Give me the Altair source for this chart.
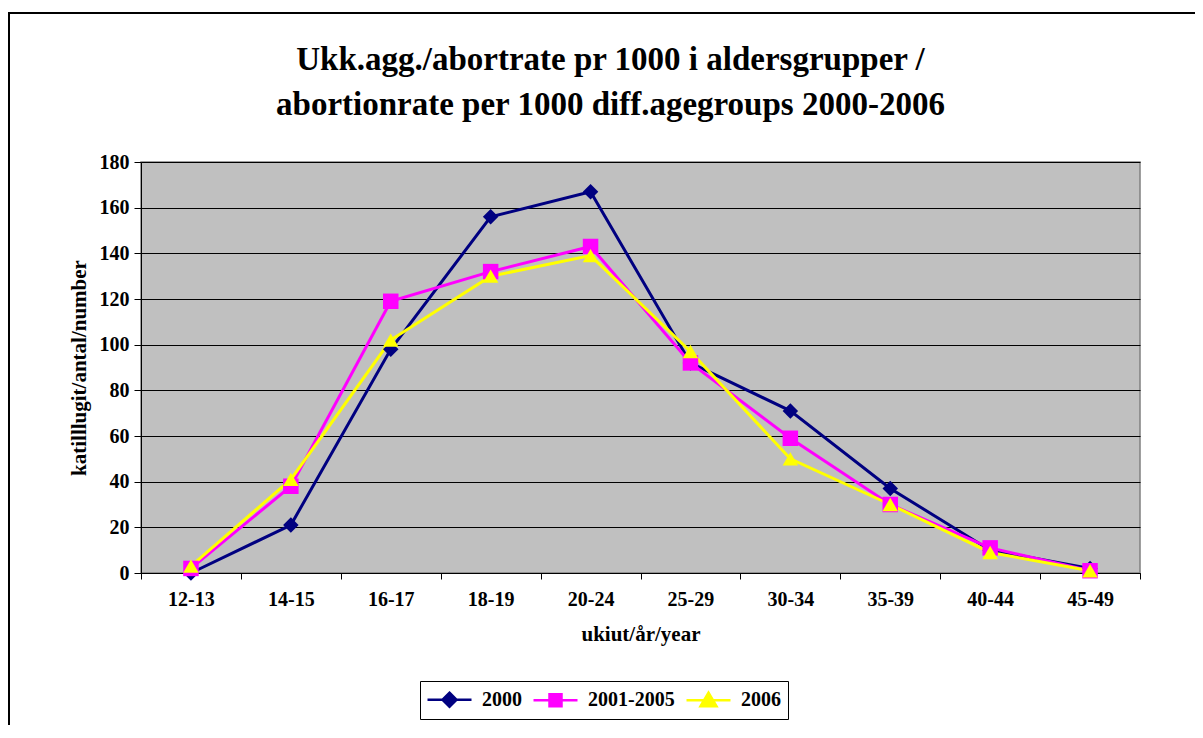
import altair as alt
import pandas as pd

age_groups = ["12-13", "14-15", "16-17", "18-19", "20-24", "25-29", "30-34", "35-39", "40-44", "45-49"]
series_names = ["2000", "2001-2005", "2006"]
v2000 = [0, 21, 98, 156, 167, 92, 71, 37, 10, 2]
v2001_2005 = [2, 38, 119, 132, 143, 92, 59, 30, 11, 1]
v2006 = [3, 41, 102, 130, 139, 97, 50, 30, 9, 1]
colors = ["#000080", "#FF00FF", "#FFFF00"]
shapes = ["diamond", "square", "triangle-up"]
# legend symbols: short line with the marker in the middle
legend_shapes = [
    "M-2.2,0H2.2M0,-0.7L0.7,0L0,0.7L-0.7,0Z",
    "M-2.2,0H2.2M-0.6,-0.6H0.6V0.6H-0.6Z",
    "M-2.2,0H2.2M0,-0.75L0.8,0.6H-0.8Z",
]

rows = []
for name, vals in zip(series_names, [v2000, v2001_2005, v2006]):
    for i, (g, v) in enumerate(zip(age_groups, vals)):
        rows.append({"group": g, "series": name, "value": v, "order": i})
df = pd.DataFrame(rows)

FONT = "Liberation Serif"

xenc = alt.X("group:N", sort=age_groups,
             scale=alt.Scale(type="band", paddingInner=0, paddingOuter=0),
             axis=alt.Axis(title="ukiut/år/year", labelAngle=0, tickBand="extent",
                           labelFont=FONT, labelFontSize=20, labelFontWeight="bold",
                           labelColor="black", labelPadding=10,
                           titleFont=FONT, titleFontSize=21, titleFontWeight="bold",
                           titleColor="black", titlePadding=14,
                           domainColor="black", tickColor="black", tickSize=6,
                           grid=False))
yenc = alt.Y("value:Q", scale=alt.Scale(domain=[0, 180], nice=False),
             axis=alt.Axis(title="katilllugit/antal/number", values=list(range(0, 181, 20)),
                           labelFont=FONT, labelFontSize=20, labelFontWeight="bold",
                           labelColor="black", labelPadding=5,
                           titleFont=FONT, titleFontSize=21, titleFontWeight="bold",
                           titleColor="black", titlePadding=10,
                           domainColor="black", tickColor="black", tickSize=7,
                           grid=True, gridColor="black", gridWidth=1.2, gridOpacity=1))

legend = alt.Legend(
    title=None, orient="none", legendX=279, legendY=519, direction="horizontal",
    labelFont=FONT, labelFontSize=20, labelFontWeight="bold", labelColor="black",
    symbolSize=400, symbolStrokeWidth=2.5, symbolOffset=11, labelOffset=21,
    columnPadding=6, padding=7, strokeColor="black", fillColor="white",
)

base = alt.Chart(df)

lines = base.mark_line(strokeWidth=3).encode(
    x=xenc, y=yenc,
    color=alt.Color("series:N", scale=alt.Scale(domain=series_names, range=colors), legend=legend),
    order="order:Q",
)

point_layers = []
for name, col, shp in zip(series_names, colors, shapes):
    point_layers.append(
        base.transform_filter(alt.datum.series == name).mark_point(
            filled=True, size=240, opacity=1, shape=shp, color=col
        ).encode(x=xenc, y=yenc)
    )

# invisible carrier layer for the legend symbols (marks pushed out of the clipped view)
legend_layer = base.mark_point(strokeWidth=2.5, opacity=1, clip=True, yOffset=3000).encode(
    x=xenc, y=yenc,
    fill=alt.Fill("series:N", scale=alt.Scale(domain=series_names, range=colors), legend=legend),
    stroke=alt.Stroke("series:N", scale=alt.Scale(domain=series_names, range=colors), legend=legend),
    shape=alt.Shape("series:N", scale=alt.Scale(domain=series_names, range=legend_shapes), legend=legend),
)

border = alt.Chart(pd.DataFrame({"k": [0]})).mark_rect(
    fill="white", fillOpacity=0, stroke="black", strokeWidth=2
).encode(
    x=alt.value(-132), x2=alt.value(1080), y=alt.value(-149), y2=alt.value(700))

chart = alt.layer(border, lines, *point_layers, legend_layer).properties(
    width=999, height=411,
    background="white",
    title=alt.TitleParams(
        text=["Ukk.agg./abortrate pr 1000 i aldersgrupper /",
              "abortionrate per 1000 diff.agegroups 2000-2006"],
        font=FONT, fontSize=33, fontWeight="bold", color="black",
        anchor="middle", dx=-30, offset=0, dy=110, lineHeight=45,
    ),
    autosize=alt.AutoSizeParams(type="none"),
    padding={"left": 133, "top": 154, "right": 55, "bottom": 152},
).configure_view(
    fill="#C0C0C0", stroke="#808080", strokeWidth=1.5
)

chart.save("out.html", embed_options={"renderer": "svg", "actions": False})
